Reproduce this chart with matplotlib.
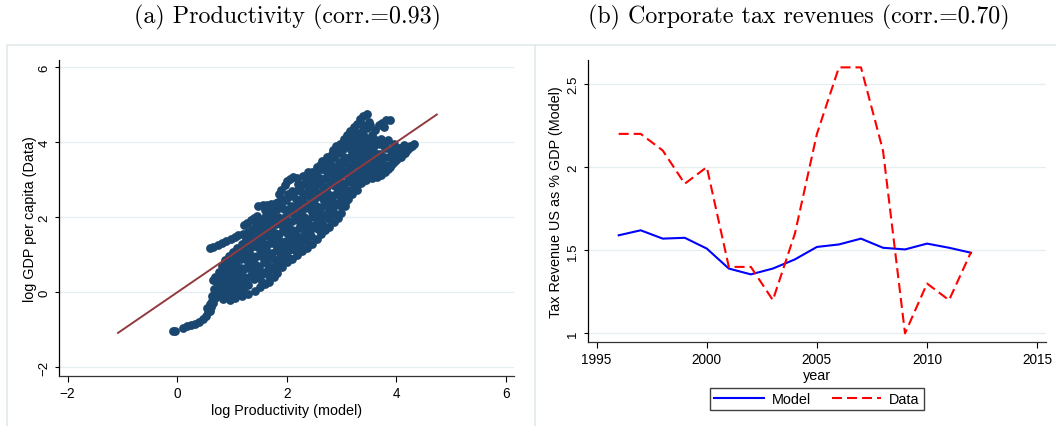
import matplotlib.pyplot as plt
from matplotlib.lines import Line2D

plt.rcParams["font.family"] = ["Liberation Sans", "DejaVu Sans"]

# ---- panel (a): log productivity (model) vs log GDP per capita (data)
prod_x = [
    -0.08, -0.04, 0.10, 0.18, 0.25, 0.32, 0.40, 0.47, 0.52, 0.57, 0.62, 0.66, 0.69, 0.72, 0.78, 0.82,
    0.84, 0.97, 1.06, 1.18, 1.30, 1.42, 1.52, 1.60, 1.67, 1.76, 1.82, 1.91, 2.00, 2.10, 2.18, 2.28,
    2.37, 2.46, 2.55, 2.63, 2.70, 2.78, 2.86, 2.93, 3.00, 3.06, 3.12, 3.18, 3.27, 3.35, 3.45, 3.55,
    3.65, 3.72, 3.80, 3.88, 3.96, 4.04, 4.12, 4.20, 4.28, 4.33,
    0.60, 0.66, 0.74, 0.82, 0.90, 0.98, 1.06, 1.12,
    1.22, 1.28, 1.34, 1.40, 1.46,
    1.48, 1.56, 1.64, 1.72, 1.80,
    1.86, 1.90, 1.96, 2.00, 2.06, 2.12, 2.18,
    2.72, 2.82, 2.90, 2.98, 3.05, 3.10, 3.16, 3.22, 3.28, 3.34, 3.40, 3.46,
    3.55, 3.62, 3.68, 3.74, 3.82, 3.88,
    3.60, 3.70, 3.80, 3.90, 4.00, 4.10, 4.20,
    0.70, 0.76, 0.82, 0.88, 0.94, 1.02, 1.10, 1.18, 1.26, 1.34, 1.42, 1.50, 1.58, 1.66, 1.74, 1.82,
    1.90, 1.98, 2.06, 2.14, 2.22, 2.30, 2.38, 2.46, 2.54, 2.62, 2.70, 2.78, 2.86, 2.94, 3.02, 3.10,
    3.18, 3.26, 3.34, 3.42, 3.50, 3.58,
    0.74, 0.80, 0.86, 0.92, 1.00, 1.08, 1.16, 1.24, 1.32, 1.40, 1.48, 1.56, 1.64, 1.72, 1.80, 1.88,
    1.96, 2.04, 2.12, 2.20, 2.28, 2.36, 2.44, 2.52, 2.60, 2.68, 2.76, 2.84, 2.92, 3.00, 3.08, 3.16,
    3.24, 3.32, 3.40, 3.48, 3.56, 3.64,
    0.90, 0.98, 1.06, 1.14, 1.22, 1.30, 1.38, 1.46, 1.54, 1.62, 1.70, 1.78, 1.86, 1.94, 2.02, 2.10,
    2.18, 2.26, 2.34, 2.42, 2.50, 2.58, 2.66, 2.74, 2.82, 2.90, 2.98, 3.06, 3.14, 3.22, 3.30, 3.38,
    3.46, 3.54, 3.62, 3.70,
    1.10, 1.18, 1.26, 1.34, 1.42, 1.50, 1.58, 1.66, 1.74, 1.82, 1.90, 1.98, 2.06, 2.14, 2.22, 2.30,
    2.38, 2.46, 2.54, 2.62, 2.70, 2.78, 2.86, 2.94, 3.02, 3.10, 3.18, 3.26, 3.34, 3.42, 3.50, 3.58,
    3.66, 3.74, 3.82,
    1.40, 1.50, 1.60, 1.70, 1.80, 1.88, 1.96, 2.04, 2.12, 2.20, 2.28, 2.36, 2.44, 2.52, 2.60, 2.68,
    2.76, 2.84, 2.92, 3.00, 3.08, 3.16, 3.24, 3.32, 3.40, 3.48,
    2.30, 2.38, 2.46, 2.55, 2.64, 2.74, 2.84, 2.92, 3.02, 3.12, 3.20, 3.30, 3.38, 3.46, 3.52,
    0.60, 0.64, 0.68, 0.72, 0.78, 0.84, 0.90, 0.96, 1.04, 1.12, 1.20, 1.28, 1.36, 1.44, 1.52, 1.60,
    1.68, 1.76,
    1.36, 1.44, 1.52, 1.60, 1.68, 1.76, 1.84, 1.92, 2.02, 2.10, 2.20, 2.30, 2.40, 2.50,
    3.60, 3.68, 3.76, 3.84, 3.92, 4.00, 4.08, 4.16, 4.24, 3.70, 3.78, 3.86, 3.94, 3.64, 3.72, 3.80,
    0.85, 0.97, 1.07, 1.19, 1.29, 1.41, 1.51, 1.63, 1.73, 1.85, 1.95, 2.07, 2.17, 2.29, 2.39, 2.51,
    2.61, 2.73, 2.83, 2.95, 3.05, 3.17, 3.27, 3.37, 3.47,
    0.95, 1.05, 1.17, 1.27, 1.37, 1.49, 1.59, 1.69, 1.79, 1.91, 2.01, 2.13, 2.23, 2.35, 2.45, 2.57,
    2.67, 2.79, 2.89, 3.01, 3.11, 3.23, 3.33, 3.45, 3.55,
    1.00, 1.12, 1.22, 1.34, 1.44, 1.56, 1.66, 1.78, 1.88, 2.00, 2.10, 2.22, 2.32, 2.44, 2.54, 2.66,
    2.76, 2.88, 2.98, 3.10, 3.20, 3.32, 3.42, 3.52, 3.62,
    1.30, 1.45, 1.55, 1.65, 1.77, 1.87, 1.99, 2.09, 2.19, 2.31, 2.41, 2.53, 2.63, 2.75, 2.85, 2.97,
    3.07, 3.19, 3.29, 3.39, 3.49, 3.59, 3.71,
    1.55, 1.68, 1.80, 1.92, 2.05, 2.15, 2.25, 2.35, 2.45, 2.57, 2.67, 2.77, 2.89, 2.99, 3.09, 3.19,
    3.29, 3.39, 3.51,
    1.20, 1.30, 1.60, 1.70, 2.20, 2.40, 2.50, 2.60, 2.68, 2.80, 2.95, 3.15, 3.25, 3.40, 3.50, 3.60,
    3.78, 3.85, 3.95, 4.05, 4.15, 4.25,
    0.55, 0.60, 0.63, 0.67, 0.71, 0.66, 0.76, 0.80, 0.88, 0.92, 0.98, 1.02, 1.12, 1.20,
]
gdp_y = [
    -1.02, -1.03, -0.96, -0.90, -0.86, -0.83, -0.78, -0.72, -0.62, -0.52, -0.40, -0.28, -0.15, -0.02, 0.10, 0.22,
    -0.18, -0.20, -0.16, -0.10, -0.04, 0.05, 0.15, 0.22, 0.28, 0.40, 0.52, 0.68, 0.80, 0.88, 1.00, 1.10,
    1.18, 1.30, 1.42, 1.55, 1.65, 1.75, 1.88, 1.98, 2.12, 2.30, 2.48, 2.65, 2.80, 2.92, 3.00, 3.05,
    3.08, 3.12, 3.22, 3.35, 3.48, 3.58, 3.68, 3.80, 3.90, 3.96,
    1.18, 1.22, 1.27, 1.31, 1.36, 1.42, 1.48, 1.52,
    1.80, 1.86, 1.92, 1.98, 2.04,
    2.30, 2.32, 2.34, 2.36, 2.38,
    2.62, 2.72, 2.85, 2.98, 3.03, 3.08, 3.05,
    3.50, 3.70, 3.90, 3.95, 4.10, 4.20, 4.30, 4.40, 4.50, 4.62, 4.70, 4.76,
    4.20, 4.32, 4.45, 4.52, 4.60, 4.60,
    3.90, 3.95, 3.85, 3.78, 3.72, 3.80, 3.88,
    0.40, 0.55, 0.70, 0.85, 0.98, 1.08, 1.18, 1.30, 1.42, 1.55, 1.68, 1.78, 1.88, 1.98, 2.10, 2.22,
    2.35, 2.46, 2.58, 2.68, 2.78, 2.88, 2.98, 3.08, 3.18, 3.30, 3.40, 3.52, 3.62, 3.72, 3.82, 3.92,
    4.02, 4.10, 4.15, 4.18, 4.10, 4.00,
    0.00, 0.20, 0.36, 0.50, 0.62, 0.75, 0.88, 1.00, 1.12, 1.24, 1.36, 1.48, 1.58, 1.70, 1.82, 1.92,
    2.02, 2.14, 2.26, 2.38, 2.48, 2.60, 2.70, 2.80, 2.92, 3.02, 3.12, 3.22, 3.32, 3.42, 3.52, 3.62,
    3.72, 3.82, 3.90, 3.95, 3.80, 3.70,
    0.10, 0.25, 0.38, 0.50, 0.62, 0.74, 0.86, 0.98, 1.10, 1.22, 1.32, 1.44, 1.56, 1.66, 1.78, 1.90,
    2.00, 2.12, 2.24, 2.34, 2.46, 2.56, 2.68, 2.80, 2.90, 3.02, 3.12, 3.22, 3.32, 3.42, 3.52, 3.60,
    3.66, 3.62, 3.55, 3.48,
    0.10, 0.22, 0.34, 0.46, 0.58, 0.68, 0.80, 0.92, 1.04, 1.16, 1.26, 1.38, 1.48, 1.60, 1.72, 1.82,
    1.94, 2.04, 2.16, 2.28, 2.38, 2.50, 2.60, 2.72, 2.84, 2.94, 3.06, 3.16, 3.26, 3.36, 3.42, 3.38,
    3.30, 3.28, 3.40,
    0.35, 0.42, 0.55, 0.62, 0.75, 0.90, 1.02, 1.12, 1.26, 1.36, 1.48, 1.58, 1.70, 1.80, 1.92, 2.02,
    2.14, 2.26, 2.36, 2.50, 2.62, 2.74, 2.86, 2.98, 3.10, 3.18,
    3.10, 3.20, 3.22, 3.35, 3.50, 3.62, 3.80, 3.88, 3.98, 4.05, 4.12, 4.20, 4.30, 4.38, 4.45,
    -0.30, -0.10, 0.10, 0.25, 0.42, 0.60, 0.72, 0.82, 0.92, 1.02, 1.14, 1.26, 1.36, 1.46, 1.58, 1.70,
    1.80, 1.92,
    1.70, 1.80, 1.90, 2.00, 2.12, 2.24, 2.40, 2.50, 2.62, 2.70, 2.72, 2.65, 2.80, 2.95,
    3.20, 3.18, 3.22, 3.30, 3.42, 3.52, 3.62, 3.72, 3.84, 3.70, 3.60, 3.62, 3.72, 4.00, 4.10, 3.95,
    0.62, 0.83, 0.93, 1.12, 1.22, 1.44, 1.53, 1.72, 1.86, 2.00, 2.22, 2.31, 2.50, 2.62, 2.80, 2.90,
    3.06, 3.22, 3.38, 3.47, 3.62, 3.80, 3.92, 4.02, 4.08,
    0.40, 0.58, 0.66, 0.86, 0.96, 1.18, 1.30, 1.48, 1.58, 1.80, 1.90, 2.06, 2.24, 2.36, 2.52, 2.66,
    2.80, 2.94, 3.10, 3.24, 3.38, 3.50, 3.68, 3.74, 3.60,
    0.05, 0.30, 0.40, 0.62, 0.74, 0.94, 1.06, 1.30, 1.38, 1.58, 1.66, 1.90, 2.00, 2.20, 2.30, 2.50,
    2.62, 2.84, 2.94, 3.12, 3.24, 3.40, 3.50, 3.52, 3.42,
    0.20, 0.40, 0.50, 0.74, 0.88, 1.06, 1.18, 1.38, 1.50, 1.66, 1.80, 1.98, 2.10, 2.30, 2.42, 2.62,
    2.74, 2.94, 3.06, 3.22, 3.30, 3.25, 3.36,
    0.28, 0.45, 0.56, 0.80, 0.92, 1.12, 1.24, 1.38, 1.50, 1.68, 1.80, 1.96, 2.10, 2.30, 2.44, 2.62,
    2.74, 2.96, 3.10,
    1.55, 1.62, 2.20, 2.28, 2.90, 3.10, 3.18, 3.40, 3.30, 3.55, 3.80, 4.15, 4.28, 4.45, 4.55, 4.10,
    4.40, 4.05, 3.95, 3.85, 3.92, 3.90,
    -0.42, -0.50, -0.22, -0.05, 0.08, 0.32, 0.30, -0.10, -0.05, 0.22, -0.08, 0.18, -0.02, 0.10,
]
diag_range = [-1.08, 4.74]  # 45-degree reference line

# ---- panel (b): corporate tax revenues, % of GDP
years = list(range(1996, 2013))
tax_model = [1.59, 1.62, 1.57, 1.575, 1.51, 1.39, 1.355, 1.39, 1.445, 1.52, 1.535, 1.57,
             1.515, 1.505, 1.54, 1.515, 1.485]
tax_data = [2.2, 2.2, 2.1, 1.9, 2.0, 1.4, 1.4, 1.2, 1.6, 2.2, 2.6, 2.6, 2.1, 1.0, 1.3, 1.2, 1.49]

NAVY = "#1a476f"
MAROON = "#913a40"
GRID = "#e6eef0"
FRAME = "#e2eaec"


def style_axes(ax):
    for side in ["top", "right"]:
        ax.spines[side].set_visible(False)
    ax.spines["left"].set_linewidth(0.9)
    ax.spines["bottom"].set_linewidth(0.9)
    ax.spines["bottom"].set_color("#333333")
    ax.tick_params(direction="out", width=0.8, labelsize=9.8)
    ax.tick_params(axis="x", length=4.5, pad=3)
    ax.tick_params(axis="y", length=3.2, pad=3.2, labelrotation=90, labelsize=9.5)
    for lab in ax.get_yticklabels():
        lab.set_va("center")
    ax.grid(axis="y", color=GRID, linewidth=0.9)
    ax.set_axisbelow(True)


def draw_frames(fig):
    fig.add_artist(Line2D([7 / 1056, 1], [1 - 45.5 / 427] * 2, color=FRAME, lw=1.2))
    fig.add_artist(Line2D([7 / 1056] * 2, [0, 1 - 45.5 / 427], color=FRAME, lw=1.2))
    fig.add_artist(Line2D([535 / 1056] * 2, [0, 1 - 45.5 / 427], color=FRAME, lw=1.2))


def panel_productivity(fig):
    ax = fig.add_axes([0.0562, 0.1178, 0.4306, 0.740])
    ax.scatter(prod_x, gdp_y, s=40, color=NAVY, linewidths=0, zorder=2)
    ax.plot(diag_range, diag_range, color=MAROON, lw=1.4, zorder=3)
    ax.set_xlim(-2.15, 6.15)
    ax.set_ylim(-2.22, 6.2)
    ax.set_xticks([-2, 0, 2, 4, 6])
    ax.set_yticks([-2, 0, 2, 4, 6])
    ax.set_xlabel("log Productivity (model)", fontsize=10.4, labelpad=2)
    ax.set_ylabel("log GDP per capita (Data)", fontsize=10.4)
    ax.yaxis.set_label_coords(-0.05, 0.5)
    style_axes(ax)
    fig.text(287 / 1056, 1 - 17 / 427, "(a) Productivity (corr.=0.93)",
             family="cmr10", fontsize=17.3, ha="center", va="center")


def panel_tax(fig):
    ax = fig.add_axes([0.5571, 0.1974, 0.4334, 0.6604])
    ax.plot(years, tax_model, color="#0000ff", lw=1.5, label="Model")
    ax.plot(years, tax_data, color="#ff0000", lw=1.5, dashes=(4.8, 2.4), label="Data")
    ax.set_xlim(1994.62, 2015.4)
    ax.set_ylim(0.95, 2.646)
    ax.set_xticks([1995, 2000, 2005, 2010, 2015])
    ax.set_yticks([1, 1.5, 2, 2.5])
    ax.set_yticklabels(["1", "1.5", "2", "2.5"])
    ax.set_xlabel("year", fontsize=10.4, labelpad=1)
    ax.set_ylabel("Tax Revenue US as % GDP (Model)", fontsize=10.4)
    ax.yaxis.set_label_coords(-0.056, 0.5)
    style_axes(ax)
    leg = ax.legend(loc="center", bbox_to_anchor=(0.5, -0.203), ncol=2, fontsize=10.4,
                    frameon=True, fancybox=False, edgecolor="#404040", framealpha=1,
                    handlelength=3.4, handletextpad=0.6, columnspacing=1.4,
                    borderpad=0.3)
    leg.get_frame().set_linewidth(1.0)
    fig.text(799 / 1056, 1 - 17 / 427, "(b) Corporate tax revenues (corr.=0.70)",
             family="cmr10", fontsize=17.3, ha="center", va="center")


def main():
    fig = plt.figure(figsize=(10.56, 4.27), dpi=100)
    draw_frames(fig)
    panel_productivity(fig)
    panel_tax(fig)
    fig.savefig("out.png", dpi=100)
    plt.close(fig)


if __name__ == "__main__":
    main()
